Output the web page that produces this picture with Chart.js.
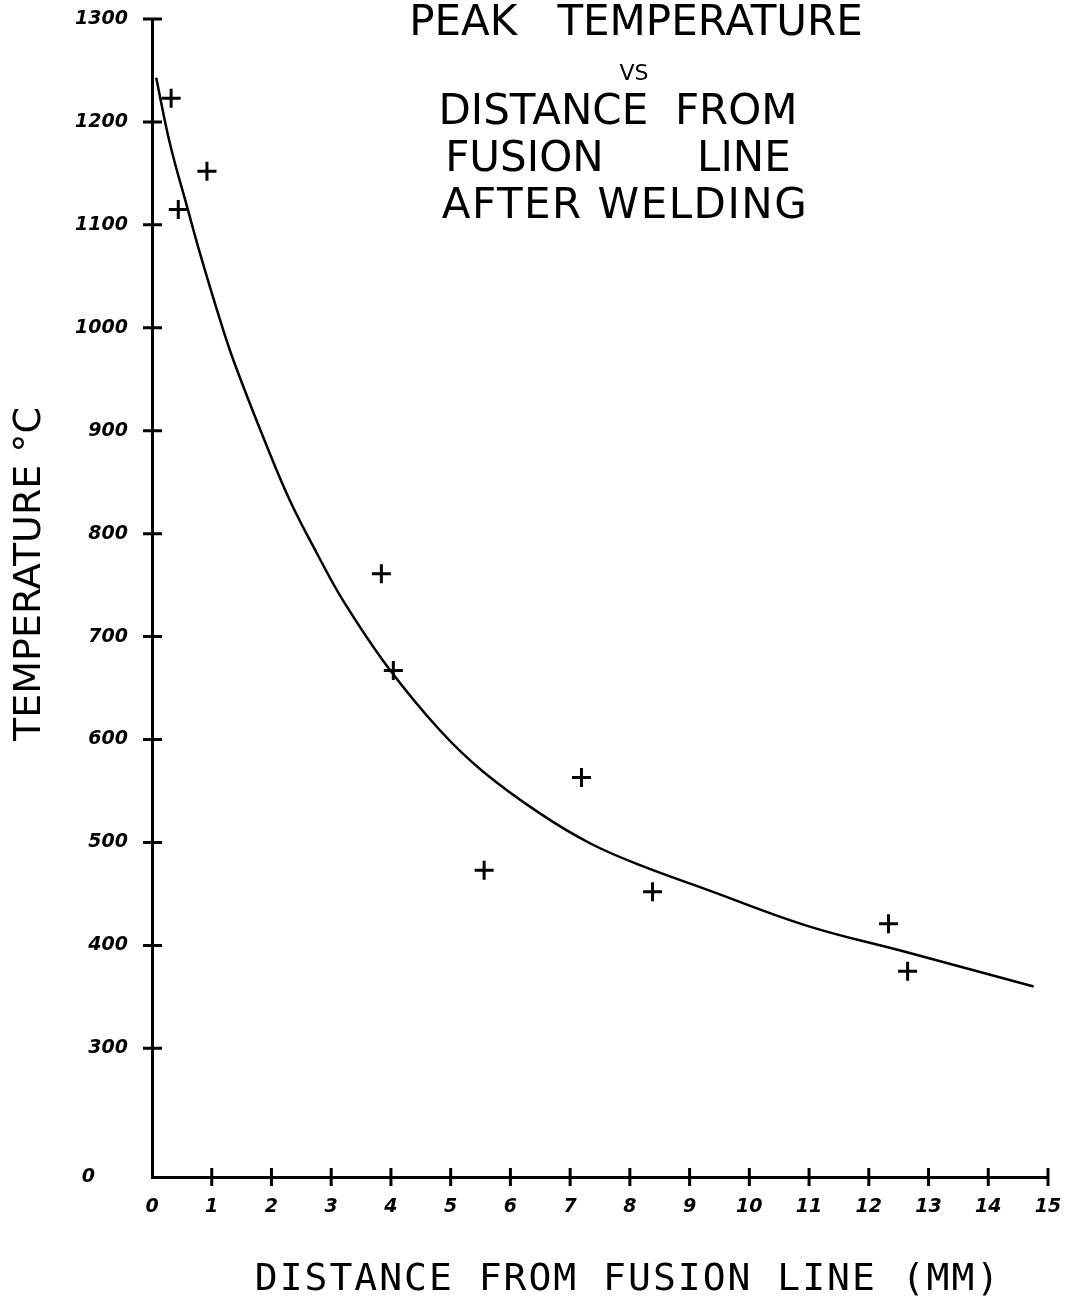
<!DOCTYPE html>
<html>
<head>
<meta charset="utf-8">
<title>Peak temperature vs distance from fusion line</title>
<script src="https://cdn.jsdelivr.net/npm/chart.js@4.4.1/dist/chart.umd.min.js"></script>
<style>
  html, body { margin: 0; padding: 0; background: #fff; }
  #wrap { width: 1067px; height: 1299px; position: relative; }
</style>
</head>
<body>
<div id="wrap"><canvas id="chart"></canvas></div>
<script>
// hand drawn fit curve (mm, °C)
const curveX = [0.07, 0.30, 0.59, 0.80, 1.09, 1.36, 1.93, 2.31, 2.76, 3.20, 3.94, 4.82, 5.54, 6.50, 7.34, 8.17, 9.30, 10.97, 12.53, 14.76];
const curveY = [1243, 1179, 1117, 1073, 1017, 969, 884, 832, 781, 735, 671, 609, 569, 528, 499, 478, 454, 419, 395, 360];

// measured points (the crosses)
const pointX = [0.32, 0.44, 0.92, 3.84, 4.04, 5.56, 7.19, 8.38, 12.33, 12.65];
const pointY = [1223, 1115, 1152, 761, 667, 473, 563, 452, 421, 375];

const xTicks = [0, 1, 2, 3, 4, 5, 6, 7, 8, 9, 10, 11, 12, 13, 14, 15];
// the axis is broken: the bottom tick is labelled 0
const yTickValues = [175, 300, 400, 500, 600, 700, 800, 900, 1000, 1100, 1200, 1300];
const yTickLabels = ['0', '300', '400', '500', '600', '700', '800', '900', '1000', '1100', '1200', '1300'];

const titleLines = ['PEAK   TEMPERATURE', 'VS', 'DISTANCE  FROM', 'FUSION       LINE', 'AFTER WELDING'];
const xTitle = 'DISTANCE FROM FUSION LINE (MM)';
const yTitle = 'TEMPERATURE °C';

const tickFont = { family: 'DejaVu Sans', size: 19, weight: 'bold', style: 'italic' };

// crossing tick marks, title block and axis titles
const handDrawn = {
  id: 'handDrawn',
  afterDraw(chart) {
    const { ctx, chartArea: a, scales: { x, y } } = chart;
    ctx.save();
    ctx.strokeStyle = '#000';
    ctx.lineWidth = 3;
    ctx.beginPath();
    xTicks.forEach(v => {
      if (v === 0) return;
      const px = x.getPixelForValue(v);
      ctx.moveTo(px, a.bottom - 9);
      ctx.lineTo(px, a.bottom + 9);
    });
    yTickValues.forEach((v, i) => {
      if (i === 0) return;
      const py = y.getPixelForValue(v);
      ctx.moveTo(a.left - 9, py);
      ctx.lineTo(a.left + 10, py);
    });
    ctx.stroke();

    ctx.fillStyle = '#000';
    ctx.textAlign = 'center';
    ctx.textBaseline = 'middle';
    // x, y, size, letter spacing
    const place = [[636, 24, 42, 0], [634, 74, 22, 0], [618, 113, 42, 0], [618, 160, 42, 0], [625, 207, 42, 1.5]];
    titleLines.forEach((t, i) => {
      ctx.font = place[i][2] + 'px "DejaVu Sans"';
      ctx.letterSpacing = place[i][3] + 'px';
      ctx.fillText(t, place[i][0], place[i][1]);
    });

    ctx.font = '38px "DejaVu Sans Mono"';
    ctx.letterSpacing = '2px';
    ctx.fillText(xTitle, 628, 1280);
    ctx.letterSpacing = '0px';

    ctx.translate(30, 574);
    ctx.rotate(-Math.PI / 2);
    ctx.font = '38px "DejaVu Sans"';
    ctx.fillText(yTitle, 0, 0);
    ctx.restore();
  }
};

new Chart(document.getElementById('chart'), {
  type: 'scatter',
  data: {
    datasets: [
      {
        data: curveX.map((v, i) => ({ x: v, y: curveY[i] })),
        showLine: true,
        borderColor: '#000',
        borderWidth: 2.5,
        pointRadius: 0,
        tension: 0.4,
        fill: false
      },
      {
        data: pointX.map((v, i) => ({ x: v, y: pointY[i] })),
        pointStyle: 'cross',
        pointRadius: 9.5,
        borderColor: '#000',
        borderWidth: 3
      }
    ]
  },
  options: {
    responsive: true,
    maintainAspectRatio: false,
    animation: false,
    layout: { padding: { top: 19, right: 19, left: 0, bottom: 0 } },
    plugins: { legend: { display: false }, tooltip: { enabled: false } },
    scales: {
      x: {
        type: 'linear', min: 0, max: 15,
        afterBuildTicks: s => { s.ticks = xTicks.map(v => ({ value: v })); },
        afterFit: s => { s.height = 122; s.paddingLeft = 0; s.paddingRight = 0; },
        grid: { drawOnChartArea: false, drawTicks: false },
        border: { color: '#000', width: 3 },
        ticks: { color: '#000', padding: 19, font: tickFont, maxRotation: 0 }
      },
      y: {
        type: 'linear', min: 175, max: 1300,
        afterBuildTicks: s => { s.ticks = yTickValues.map(v => ({ value: v })); },
        afterFit: s => { s.width = 152; s.paddingTop = 0; s.paddingBottom = 0; },
        grid: { drawOnChartArea: false, drawTicks: false },
        border: { color: '#000', width: 3 },
        ticks: {
          color: '#000', padding: 24, font: tickFont,
          callback: v => {
            const i = yTickValues.indexOf(v);
            return i === 0 ? yTickLabels[0] + '     ' : yTickLabels[i];
          }
        }
      }
    }
  },
  plugins: [handDrawn]
});
</script>
</body>
</html>
